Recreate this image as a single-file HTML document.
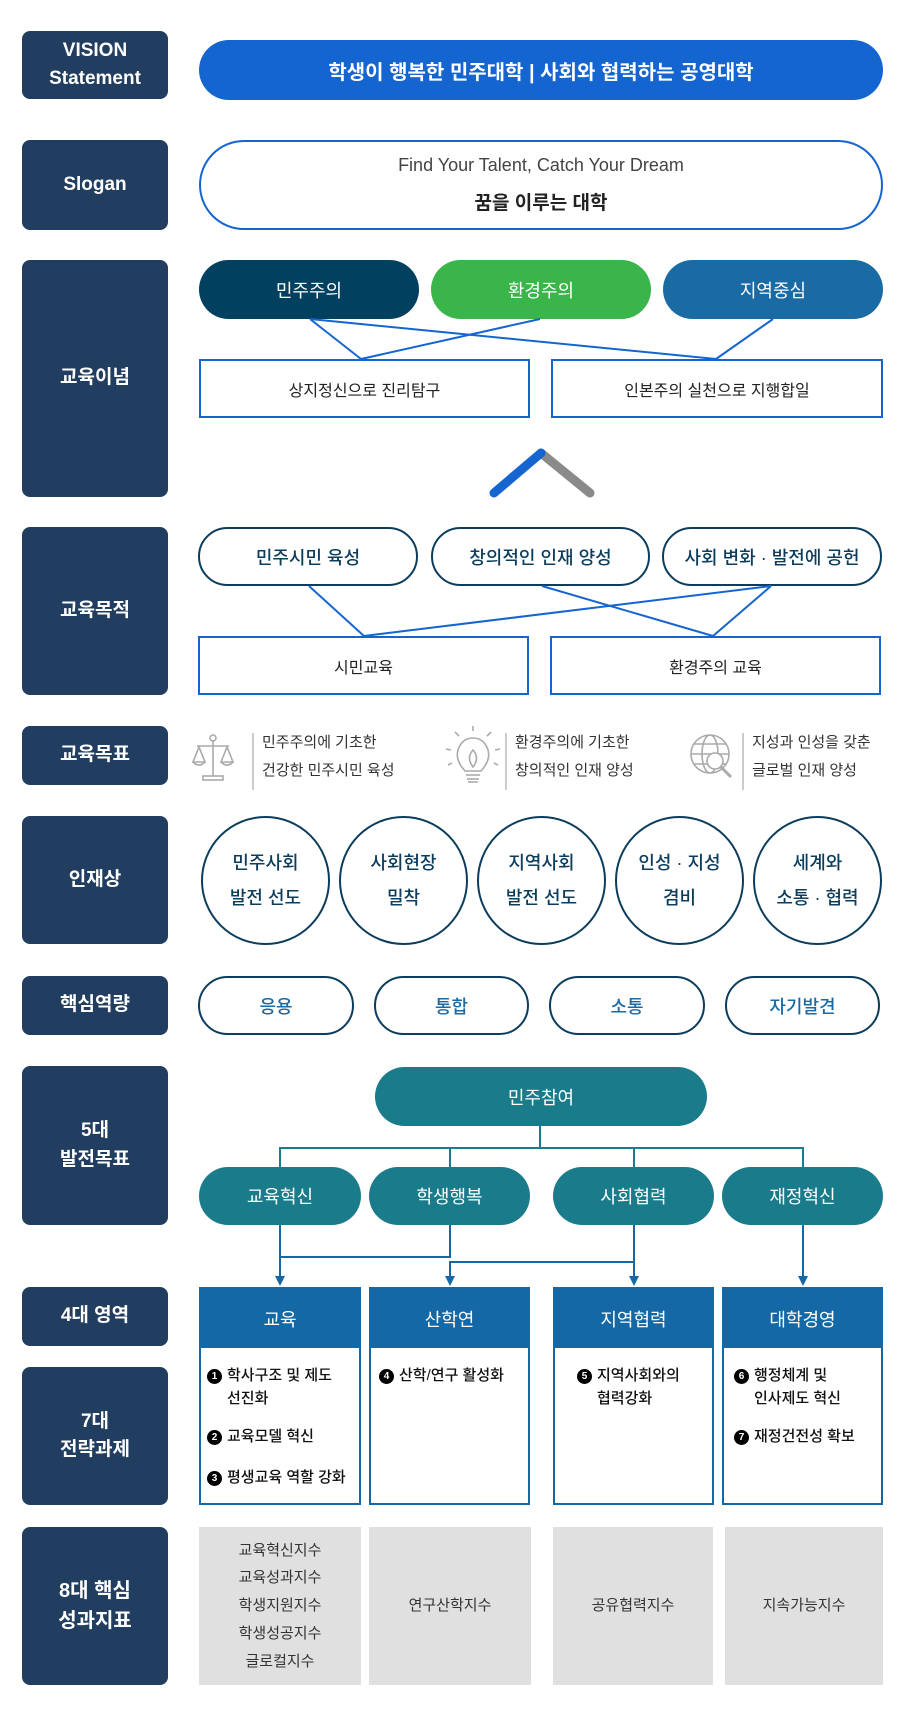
<!DOCTYPE html>
<html><head><meta charset="utf-8"><style>
*{margin:0;padding:0;box-sizing:border-box}
body{width:900px;height:1720px;background:#fff;position:relative;overflow:hidden;font-family:"Liberation Sans","Noto Sans CJK KR",sans-serif}
.a{position:absolute;display:flex;align-items:center;justify-content:center;text-align:center}
.lab{left:22px;width:146px;background:#213d5f;color:#fff;font-weight:bold;font-size:19px;border-radius:8px;line-height:1.5}
.pill{border-radius:32px}
.op{border:2px solid #0c3d5c;background:#fff;color:#0c3d5c;font-size:18px;font-weight:500;border-radius:32px}
.bx{border:2px solid #1565d0;background:#fff;color:#222;font-size:16px}
.cir{width:129px;height:129px;top:816px;border:2px solid #0c3d5c;border-radius:50%;color:#0c3d5c;font-size:18px;font-weight:500;line-height:1.9}
.cp{top:976px;height:59px;border:2px solid #0c3d5c;border-radius:30px;color:#1a6aa3;font-size:18px;font-weight:500}
.teal{background:#1a7b8a;color:#fff;font-size:18px;border-radius:30px}
.dom{top:1287px;height:218px;border:2px solid #1468a6;background:#fff}
.dh{position:absolute;left:0;right:0;top:0;height:59px;background:#1468a6;color:#fff;font-size:18px;display:flex;align-items:center;justify-content:center}
.it{position:absolute;font-size:15px;color:#111;line-height:1.55;text-align:left;font-weight:500}
.n{display:inline-block;width:15px;height:15px;border-radius:50%;background:#000;color:#fff;font-size:10px;font-weight:bold;line-height:15px;text-align:center;margin-right:5px;vertical-align:1px}
.gr{top:1527px;height:158px;background:#e0e0e0;color:#333;font-size:15px;line-height:1.85}
.gt{position:absolute;font-size:15px;color:#333;line-height:28px;text-align:left}
.dv{position:absolute;width:2px;background:#ccc;top:733px;height:57px}
</style></head><body>

<div class="a lab" style="top:31px;height:68px">VISION<br>Statement</div>
<div class="a pill" style="left:199px;top:40px;width:684px;height:60px;background:#1565d0;color:#fff;font-size:20px;font-weight:bold">학생이 행복한 민주대학 | 사회와 협력하는 공영대학</div>

<div class="a lab" style="top:140px;height:90px">Slogan</div>
<div class="a" style="left:199px;top:140px;width:684px;height:90px;border:2px solid #1565d0;border-radius:45px;flex-direction:column">
<div style="font-size:18px;color:#444;margin-bottom:12px">Find Your Talent, Catch Your Dream</div>
<div style="font-size:19px;font-weight:bold;color:#222">꿈을 이루는 대학</div></div>

<div class="a lab" style="top:260px;height:237px">교육이념</div>
<div class="a pill" style="left:199px;top:260px;width:220px;height:59px;background:#02405f;color:#fff;font-size:18px">민주주의</div>
<div class="a pill" style="left:431px;top:260px;width:220px;height:59px;background:#39b54a;color:#fff;font-size:18px">환경주의</div>
<div class="a pill" style="left:663px;top:260px;width:220px;height:59px;background:#1a6aa3;color:#fff;font-size:18px">지역중심</div>
<div class="a bx" style="left:199px;top:359px;width:331px;height:59px">상지정신으로 진리탐구</div>
<div class="a bx" style="left:551px;top:359px;width:332px;height:59px">인본주의 실천으로 지행합일</div>

<div class="a lab" style="top:527px;height:168px">교육목적</div>
<div class="a op" style="left:198px;top:527px;width:220px;height:59px">민주시민 육성</div>
<div class="a op" style="left:431px;top:527px;width:219px;height:59px">창의적인 인재 양성</div>
<div class="a op" style="left:662px;top:527px;width:220px;height:59px">사회 변화 · 발전에 공헌</div>
<div class="a bx" style="left:198px;top:636px;width:331px;height:59px">시민교육</div>
<div class="a bx" style="left:550px;top:636px;width:331px;height:59px">환경주의 교육</div>

<svg style="position:absolute;left:0;top:0" width="900" height="1720">
<g stroke="#1565d0" stroke-width="2" fill="none">
<line x1="310" y1="319" x2="361" y2="359"/><line x1="310" y1="319" x2="716" y2="359"/>
<line x1="540" y1="319" x2="361" y2="359"/><line x1="773" y1="319" x2="716" y2="359"/>
<line x1="309" y1="586" x2="364" y2="636"/><line x1="542" y1="586" x2="713" y2="636"/>
<line x1="771" y1="586" x2="364" y2="636"/><line x1="771" y1="586" x2="713" y2="636"/>
</g>
<line x1="541" y1="453" x2="590" y2="493" stroke="#8a8a8a" stroke-width="9" stroke-linecap="round"/>
<line x1="541" y1="453" x2="494" y2="493" stroke="#1565d0" stroke-width="9" stroke-linecap="round"/>
<g stroke="#1a7b8a" stroke-width="2" fill="none">
<line x1="540" y1="1126" x2="540" y2="1148"/>
<polyline points="280,1167 280,1148 803,1148 803,1167"/>
<line x1="450" y1="1148" x2="450" y2="1167"/><line x1="634" y1="1148" x2="634" y2="1167"/>
</g>
<g stroke="#1468a6" stroke-width="2" fill="none">
<line x1="280" y1="1225" x2="280" y2="1278"/>
<polyline points="450,1225 450,1257 280,1257"/>
<line x1="634" y1="1225" x2="634" y2="1278"/>
<polyline points="634,1262 450,1262 450,1278"/>
<line x1="803" y1="1225" x2="803" y2="1278"/>
</g>
<g fill="#1468a6">
<polygon points="275,1276 285,1276 280,1286"/><polygon points="445,1276 455,1276 450,1286"/>
<polygon points="629,1276 639,1276 634,1286"/><polygon points="798,1276 808,1276 803,1286"/>
</g>
<g stroke="#aaa" stroke-width="1.6" fill="none">
<line x1="213" y1="740" x2="213" y2="776"/><circle cx="213" cy="738" r="3"/>
<line x1="197" y1="746" x2="229" y2="746"/>
<path d="M199 747 L193 762 L205 762 Z M227 747 L221 762 L233 762 Z"/>
<path d="M193 762 Q199 768 205 762 M221 762 Q227 768 233 762"/>
<rect x="203" y="776" width="20" height="4"/>
<path d="M465 771 Q455 760 458 750 Q462 738 473 738 Q484 738 488 750 Q491 760 481 771 Z"/>
<line x1="466" y1="775" x2="480" y2="775"/><line x1="467" y1="779" x2="479" y2="779"/><line x1="468" y1="782" x2="478" y2="782"/>
<path d="M473 767 Q466 758 473 750 Q480 758 473 767 Z"/>
<line x1="473" y1="731" x2="473" y2="726"/><line x1="459" y1="736" x2="455" y2="732"/><line x1="487" y1="736" x2="491" y2="732"/>
<line x1="451" y1="750" x2="446" y2="749"/><line x1="495" y1="750" x2="500" y2="749"/><line x1="452" y1="763" x2="448" y2="765"/><line x1="494" y1="763" x2="498" y2="765"/>
<circle cx="710" cy="754" r="19"/><ellipse cx="710" cy="754" rx="8" ry="19"/>
<line x1="691" y1="754" x2="729" y2="754"/><path d="M694 744 H726 M694 764 H726"/>
<circle cx="715" cy="761" r="8" fill="#fff"/><line x1="721" y1="767" x2="731" y2="777" stroke-width="3"/>
</g>
</svg>

<div class="a lab" style="top:726px;height:59px">교육목표</div>
<div class="dv" style="left:252px"></div><div class="gt" style="left:262px;top:729px">민주주의에 기초한<br>건강한 민주시민 육성</div>
<div class="dv" style="left:505px"></div><div class="gt" style="left:515px;top:729px">환경주의에 기초한<br>창의적인 인재 양성</div>
<div class="dv" style="left:742px"></div><div class="gt" style="left:752px;top:729px">지성과 인성을 갖춘<br>글로벌 인재 양성</div>

<div class="a lab" style="top:816px;height:128px">인재상</div>
<div class="a cir" style="left:201px">민주사회<br>발전 선도</div>
<div class="a cir" style="left:339px">사회현장<br>밀착</div>
<div class="a cir" style="left:477px">지역사회<br>발전 선도</div>
<div class="a cir" style="left:615px">인성 · 지성<br>겸비</div>
<div class="a cir" style="left:753px">세계와<br>소통 · 협력</div>

<div class="a lab" style="top:976px;height:59px">핵심역량</div>
<div class="a cp" style="left:198px;width:156px">응용</div>
<div class="a cp" style="left:374px;width:155px">통합</div>
<div class="a cp" style="left:549px;width:156px">소통</div>
<div class="a cp" style="left:725px;width:155px">자기발견</div>

<div class="a lab" style="top:1066px;height:159px">5대<br>발전목표</div>
<div class="a teal" style="left:375px;top:1067px;width:332px;height:59px">민주참여</div>
<div class="a teal" style="left:199px;top:1167px;width:162px;height:58px">교육혁신</div>
<div class="a teal" style="left:369px;top:1167px;width:161px;height:58px">학생행복</div>
<div class="a teal" style="left:553px;top:1167px;width:161px;height:58px">사회협력</div>
<div class="a teal" style="left:722px;top:1167px;width:161px;height:58px">재정혁신</div>

<div class="a lab" style="top:1287px;height:59px">4대 영역</div>
<div class="a lab" style="top:1367px;height:138px">7대<br>전략과제</div>
<div class="a dom" style="left:199px;width:162px"><div class="dh">교육</div>
<div class="it" style="left:6px;top:75px">
<div><span class="n">1</span>학사구조 및 제도</div><div style="padding-left:20px">선진화</div>
<div style="margin-top:14px"><span class="n">2</span>교육모델 혁신</div>
<div style="margin-top:18px"><span class="n">3</span>평생교육 역할 강화</div></div></div>
<div class="a dom" style="left:369px;width:161px"><div class="dh">산학연</div>
<div class="it" style="left:8px;top:75px"><span class="n">4</span>산학/연구 활성화</div></div>
<div class="a dom" style="left:553px;width:161px"><div class="dh">지역협력</div>
<div class="it" style="left:22px;top:75px"><div><span class="n">5</span>지역사회와의</div><div style="padding-left:20px">협력강화</div></div></div>
<div class="a dom" style="left:722px;width:161px"><div class="dh">대학경영</div>
<div class="it" style="left:10px;top:75px"><div><span class="n">6</span>행정체계 및</div><div style="padding-left:20px">인사제도 혁신</div>
<div style="margin-top:14px"><span class="n">7</span>재정건전성 확보</div></div></div>

<div class="a lab" style="top:1527px;height:158px;font-size:20px">8대 핵심<br>성과지표</div>
<div class="a gr" style="left:199px;width:162px">교육혁신지수<br>교육성과지수<br>학생지원지수<br>학생성공지수<br>글로컬지수</div>
<div class="a gr" style="left:369px;width:162px">연구산학지수</div>
<div class="a gr" style="left:553px;width:160px">공유협력지수</div>
<div class="a gr" style="left:725px;width:158px">지속가능지수</div>
</body></html>
